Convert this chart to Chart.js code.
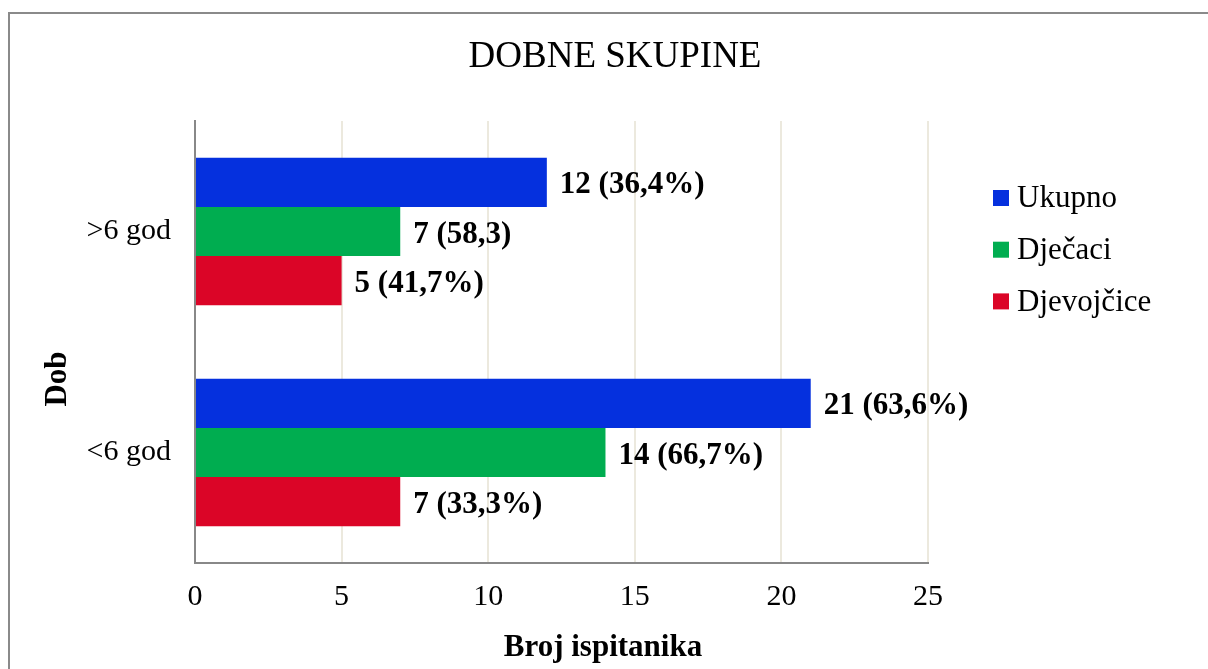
<!DOCTYPE html>
<html>
<head>
<meta charset="utf-8">
<script src="https://cdn.jsdelivr.net/npm/chart.js@4.4.1/dist/chart.umd.min.js"></script>
<style>
  html, body { margin: 0; padding: 0; overflow: hidden; background: #fff; }
  #wrap { position: relative; width: 1208px; height: 669px; }
  #frame { position: absolute; left: 8px; top: 12px; width: 1300px; height: 800px; border: 2px solid #8a8a8a; pointer-events: none; }
  canvas { position: absolute; left: 0; top: 0; }
</style>
</head>
<body>
<div id="wrap">
  <canvas id="age-chart" width="1208" height="669"></canvas>
  <div id="frame"></div>
</div>
<script>
const chartTitle = 'DOBNE SKUPINE';
const xTitle = 'Broj ispitanika';
const yTitle = 'Dob';
const categories = ['>6 god', '<6 god'];
const seriesNames = ['Ukupno', 'Dječaci', 'Djevojčice'];
const ukupno = [12, 21];
const djecaci = [7, 14];
const djevojcice = [5, 7];
const ukupnoLabels = ['12 (36,4%)', '21 (63,6%)'];
const djecaciLabels = ['7 (58,3)', '14 (66,7%)'];
const djevojciceLabels = ['5 (41,7%)', '7 (33,3%)'];
const xTicks = [0, 5, 10, 15, 20, 25];
const barColors = ['#0530de', '#00ad50', '#db0527'];

const serif = '"Liberation Serif", "Times New Roman", serif';
Chart.defaults.color = '#000';
Chart.defaults.font.family = serif;

// data labels, titles and legend are drawn by hand
const extrasPlugin = {
  id: 'extras',
  afterDatasetsDraw(chart) {
    const ctx = chart.ctx;
    ctx.save();
    ctx.font = 'bold 31px ' + serif;
    ctx.fillStyle = '#000';
    ctx.textAlign = 'left';
    ctx.textBaseline = 'middle';
    chart.data.datasets.forEach((ds, i) => {
      chart.getDatasetMeta(i).data.forEach((bar, j) => {
        ctx.fillText(ds.valueLabels[j], bar.x + 13, bar.y + 3);
      });
    });
    ctx.restore();
  },
  afterDraw(chart) {
    const ctx = chart.ctx;
    const area = chart.chartArea;
    ctx.save();
    ctx.fillStyle = '#000';
    ctx.textAlign = 'center';
    ctx.textBaseline = 'alphabetic';
    ctx.font = '37px ' + serif;
    ctx.fillText(chartTitle, 615, 67);
    ctx.font = 'bold 31px ' + serif;
    ctx.fillText(xTitle, 603, 656);

    ctx.save();
    ctx.translate(66, 379);
    ctx.rotate(-Math.PI / 2);
    ctx.fillText(yTitle, 0, 0);
    ctx.restore();

    ctx.textAlign = 'left';
    ctx.textBaseline = 'middle';
    ctx.font = '31px ' + serif;
    chart.data.datasets.forEach((ds, i) => {
      const y = area.top + 77 + i * 51.7;
      ctx.fillStyle = ds.backgroundColor;
      ctx.fillRect(area.right + 65, y - 8, 16, 16);
      ctx.fillStyle = '#000';
      ctx.fillText(ds.label, area.right + 89, y + 1);
    });
    ctx.restore();
  }
};

function makeDataset(i, values, labels) {
  return {
    label: seriesNames[i],
    data: values,
    valueLabels: labels,
    backgroundColor: barColors[i],
    borderWidth: 0,
    barPercentage: 1,
    categoryPercentage: 0.667
  };
}

const ctx = document.getElementById('age-chart');
new Chart(ctx, {
  type: 'bar',
  data: {
    labels: categories,
    datasets: [
      makeDataset(0, ukupno, ukupnoLabels),
      makeDataset(1, djecaci, djecaciLabels),
      makeDataset(2, djevojcice, djevojciceLabels)
    ]
  },
  options: {
    indexAxis: 'y',
    responsive: false,
    animation: false,
    layout: {
      padding: { left: 21, top: 121, right: 280, bottom: 38 }
    },
    plugins: {
      legend: { display: false },
      title: { display: false },
      tooltip: { enabled: false }
    },
    scales: {
      x: {
        type: 'linear',
        min: 0,
        max: 25,
        afterBuildTicks: (scale) => {
          scale.ticks = xTicks.map(v => ({ value: v }));
        },
        grid: { color: '#ece9de', lineWidth: 2, drawTicks: false },
        border: { display: true, color: '#888888', width: 2 },
        ticks: { font: { size: 30 }, padding: 16, color: '#000' }
      },
      y: {
        type: 'category',
        z: 1,
        grid: { display: false, drawTicks: false },
        border: { display: true, color: '#888888', width: 2 },
        ticks: { font: { size: 30 }, padding: 24, color: '#000' },
        afterFit: (scale) => { scale.width = 174; }
      }
    }
  },
  plugins: [extrasPlugin]
});
</script>
</body>
</html>
